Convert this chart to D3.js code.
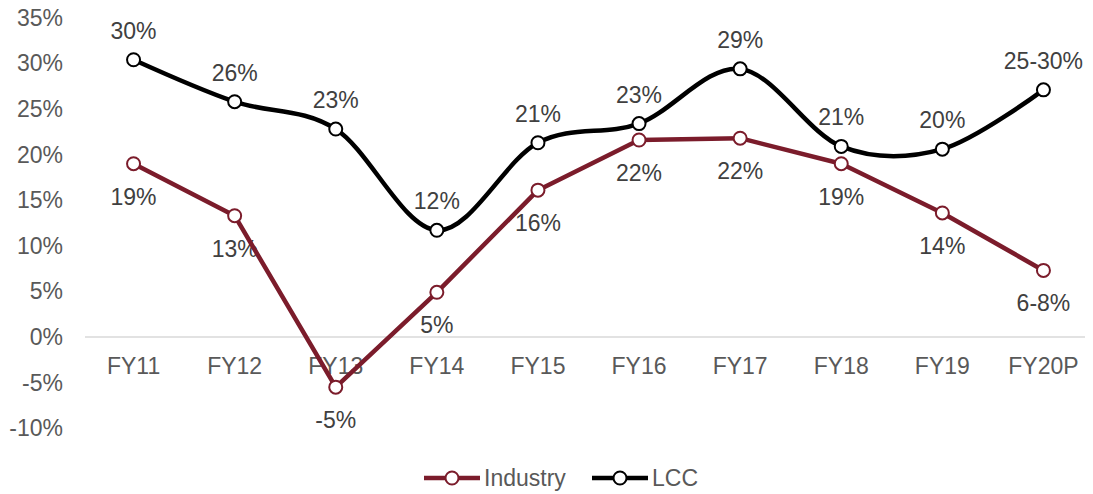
<!DOCTYPE html>
<html lang="en">
<head>
  <meta charset="UTF-8" />
  <title>Industry vs LCC growth</title>
  <style>
    body { margin: 0; background: #fff; font-family: "Liberation Sans", Arial, sans-serif; }
  </style>
</head>
<body>
  <div id="chart"></div>
  <script src="https://d3js.org/d3.v7.min.js"></script>
  <script>
    const categories = ["FY11", "FY12", "FY13", "FY14", "FY15", "FY16", "FY17", "FY18", "FY19", "FY20P"];
    const industry = [19.0, 13.3, -5.5, 4.9, 16.1, 21.6, 21.8, 19.0, 13.6, 7.3];
    const lcc = [30.4, 25.8, 22.8, 11.7, 21.3, 23.4, 29.4, 20.9, 20.6, 27.1];
    const industryLabels = ["19%", "13%", "-5%", "5%", "16%", "22%", "22%", "19%", "14%", "6-8%"];
    const lccLabels = ["30%", "26%", "23%", "12%", "21%", "23%", "29%", "21%", "20%", "25-30%"];
    const yTicks = [-10, -5, 0, 5, 10, 15, 20, 25, 30, 35];

    const W = 1093, H = 494;
    const svg = d3.select("#chart").append("svg")
      .attr("width", W).attr("height", H)
      .style("font-family", "'Liberation Sans', Arial, sans-serif");

    const x = d3.scaleBand().domain(categories).range([83, 1094]);
    const y = d3.scaleLinear().domain([-10, 35]).range([428.2, 17.8]);
    const cx = d => x(d) + x.bandwidth() / 2;

    // zero line
    svg.append("line")
      .attr("x1", 85).attr("x2", 1085)
      .attr("y1", y(0)).attr("y2", y(0))
      .attr("stroke", "#d9d9d9").attr("stroke-width", 1.5);

    // y tick labels
    svg.selectAll(".ytick").data(yTicks).enter().append("text")
      .attr("x", 63).attr("y", d => y(d))
      .attr("dy", "0.35em")
      .attr("text-anchor", "end")
      .attr("font-size", "23px").attr("fill", "#595959")
      .text(d => d + "%");

    // category labels
    svg.selectAll(".xtick").data(categories).enter().append("text")
      .attr("x", d => cx(d)).attr("y", 366)
      .attr("dy", "0.35em")
      .attr("text-anchor", "middle")
      .attr("font-size", "23px").attr("fill", "#595959")
      .text(d => d);

    const series = [
      { name: "Industry", values: industry, labels: industryLabels, color: "#7b1c2b", curve: d3.curveLinear, off: 33 },
      { name: "LCC", values: lcc, labels: lccLabels, color: "#000000", curve: d3.curveCardinal.tension(0), off: -29 }
    ];

    // data labels
    series.forEach(s => {
      svg.selectAll(null).data(s.values).enter().append("text")
        .attr("x", (d, i) => cx(categories[i]))
        .attr("y", d => y(d) + s.off)
        .attr("dy", "0.35em")
        .attr("text-anchor", "middle")
        .attr("font-size", "23px").attr("fill", "#404040")
        .text((d, i) => s.labels[i]);
    });

    // lines and markers
    series.forEach(s => {
      const line = d3.line()
        .x((d, i) => cx(categories[i]))
        .y(d => y(d))
        .curve(s.curve);
      svg.append("path")
        .datum(s.values)
        .attr("d", line)
        .attr("fill", "none")
        .attr("stroke", s.color)
        .attr("stroke-width", 4.5)
        .attr("stroke-linejoin", "round");
      svg.selectAll(null).data(s.values).enter().append("circle")
        .attr("cx", (d, i) => cx(categories[i]))
        .attr("cy", d => y(d))
        .attr("r", 6.5)
        .attr("fill", "#fff")
        .attr("stroke", s.color)
        .attr("stroke-width", 2);
    });

    // legend
    const legendX = [424, 592];
    const legend = svg.selectAll(".legend").data(series).enter().append("g")
      .attr("transform", (d, i) => `translate(${legendX[i]}, 478)`);
    legend.append("line")
      .attr("x1", 0).attr("x2", 56)
      .attr("stroke", d => d.color).attr("stroke-width", 4.5);
    legend.append("circle")
      .attr("cx", 28).attr("r", 6.5)
      .attr("fill", "#fff").attr("stroke", d => d.color).attr("stroke-width", 2);
    legend.append("text")
      .attr("x", 60).attr("dy", "0.35em")
      .attr("font-size", "23px").attr("fill", "#595959")
      .text(d => d.name);
  </script>
</body>
</html>
